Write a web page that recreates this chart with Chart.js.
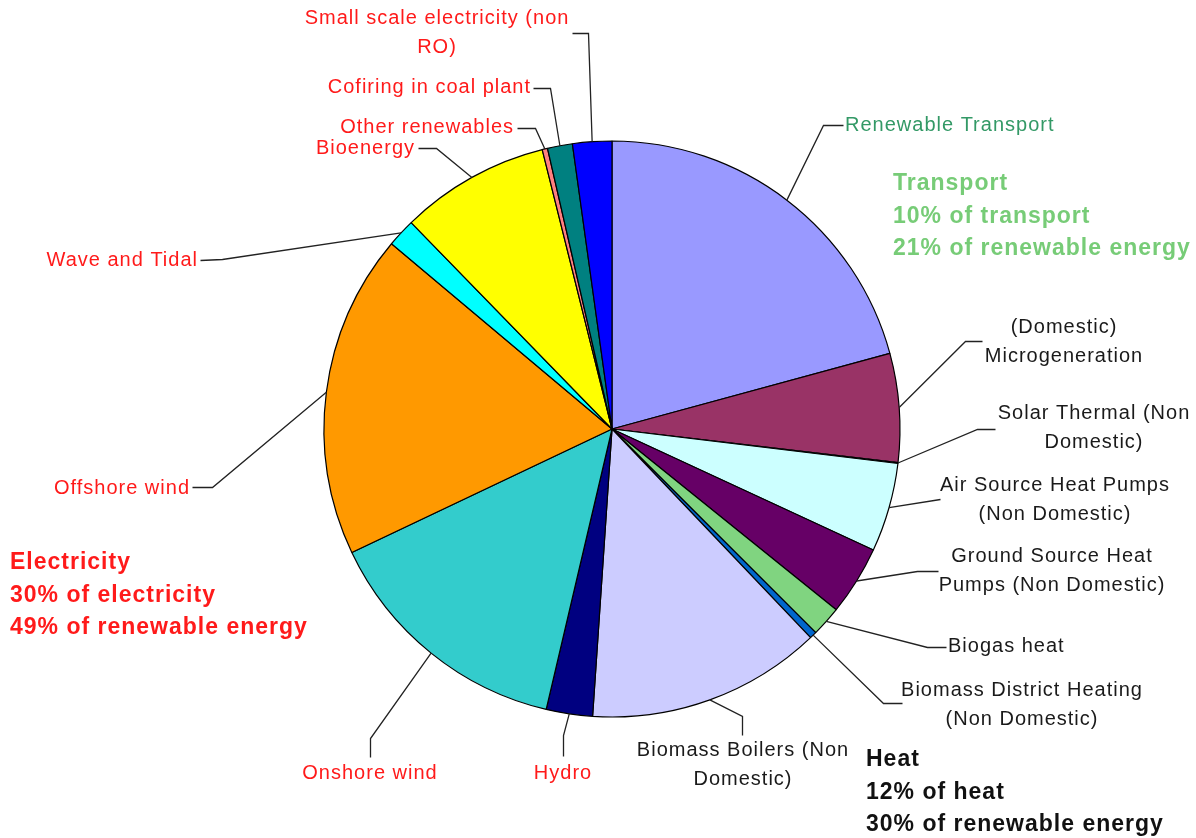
<!DOCTYPE html>
<html>
<head>
<meta charset="utf-8">
<script src="https://cdn.jsdelivr.net/npm/chart.js@4/dist/chart.umd.min.js"></script>
<style>
  html, body { margin: 0; padding: 0; background: #fff; }
  canvas { display: block; }
</style>
</head>
<body>
<canvas id="pie" width="1196" height="838"></canvas>
<script>
// slices, clockwise from 12 o'clock (share of renewable energy, %)
const categories = [
  "Renewable Transport",
  "(Domestic) Microgeneration",
  "Solar Thermal (Non Domestic)",
  "Air Source Heat Pumps (Non Domestic)",
  "Ground Source Heat Pumps (Non Domestic)",
  "Biogas heat",
  "Biomass District Heating (Non Domestic)",
  "Biomass Boilers (Non Domestic)",
  "Hydro",
  "Onshore wind",
  "Offshore wind",
  "Wave and Tidal",
  "Bioenergy",
  "Other renewables",
  "Cofiring in coal plant",
  "Small scale electricity (non RO)"
];
const values = [20.8, 6.1, 0.05, 5.0, 3.9, 1.7, 0.4, 13.2, 2.6, 14.3, 18.2, 1.6, 8.4, 0.3, 1.4, 2.2];
const sectors = ["transport", "heat", "heat", "heat", "heat", "heat", "heat", "heat",
  "elec", "elec", "elec", "elec", "elec", "elec", "elec", "elec"];

const summaryTransport = ["Transport", "10% of transport", "21% of renewable energy"];
const summaryElec = ["Electricity", "30% of electricity", "49% of renewable energy"];
const summaryHeat = ["Heat", "12% of heat", "30% of renewable energy"];

const sliceColors = ["#9999FF", "#993366", "#CCFFFF", "#CCFFFF", "#660066", "#80D480", "#0066CC",
  "#CCCCFF", "#000080", "#33CCCC", "#FF9900", "#00FFFF", "#FFFF00", "#FF8080", "#008080", "#0000FF"];
const textColors = { transport: "#339966", heat: "#1a1a1a", elec: "#FF1a1a" };

// label layout: text lines, anchor, alignment, elbow points of the leader line
const labelLayout = [
  { lines: ["Renewable Transport"], x: 845, y: 125, align: "left", elbow: [[823, 125], [843, 125]] },
  { lines: ["(Domestic)", "Microgeneration"], x: 1064, y: 327, align: "center", elbow: [[965, 341], [982, 341]] },
  { lines: ["Solar Thermal (Non", "Domestic)"], x: 1094, y: 413, align: "center", elbow: [[977, 429], [995, 429]] },
  { lines: ["Air Source Heat Pumps", "(Non Domestic)"], x: 1055, y: 485, align: "center", elbow: [[940, 499]] },
  { lines: ["Ground Source Heat", "Pumps (Non Domestic)"], x: 1052, y: 556, align: "center", elbow: [[917, 571], [938, 571]] },
  { lines: ["Biogas heat"], x: 948, y: 646, align: "left", elbow: [[927, 647], [946, 647]] },
  { lines: ["Biomass District Heating", "(Non Domestic)"], x: 1022, y: 690, align: "center", elbow: [[883, 703], [902, 703]] },
  { lines: ["Biomass Boilers (Non", "Domestic)"], x: 743, y: 750, align: "center", elbow: [[742, 716], [742, 735]] },
  { lines: ["Hydro"], x: 563, y: 773, align: "center", elbow: [[563, 735], [563, 756]] },
  { lines: ["Onshore wind"], x: 370, y: 773, align: "center", elbow: [[370, 738], [370, 757]] },
  { lines: ["Offshore wind"], x: 190, y: 488, align: "right", elbow: [[212, 487], [192, 487]] },
  { lines: ["Wave and Tidal"], x: 198, y: 260, align: "right", elbow: [[222, 259], [200, 260]] },
  { lines: ["Bioenergy"], x: 415, y: 148, align: "right", elbow: [[436, 148], [418, 148]] },
  { lines: ["Other renewables"], x: 514, y: 127, align: "right", elbow: [[535, 128], [517, 128]] },
  { lines: ["Cofiring in coal plant"], x: 531, y: 87, align: "right", elbow: [[550, 88], [533, 88]] },
  { lines: ["Small scale electricity (non", "RO)"], x: 437, y: 18, align: "center", elbow: [[588, 33], [572, 33]] }
];

const calloutPlugin = {
  id: "callouts",
  afterDatasetsDraw(chart) {
    const ctx = chart.ctx;
    const arcs = chart.getDatasetMeta(0).data;
    ctx.save();
    // leader lines from the middle of each slice's rim
    ctx.strokeStyle = "#222";
    ctx.lineWidth = 1.3;
    arcs.forEach((arc, i) => {
      const p = arc.getProps(["x", "y", "startAngle", "endAngle", "outerRadius"]);
      const mid = (p.startAngle + p.endAngle) / 2;
      const sx = p.x + Math.cos(mid) * p.outerRadius;
      const sy = p.y + Math.sin(mid) * p.outerRadius;
      ctx.beginPath();
      ctx.moveTo(sx, sy);
      labelLayout[i].elbow.forEach(pt => ctx.lineTo(pt[0] + 0.5, pt[1] + 0.5));
      ctx.stroke();
    });
    // slice labels
    ctx.font = "20px 'Liberation Sans', Arial, sans-serif";
    ctx.letterSpacing = "1px";
    ctx.textBaseline = "middle";
    labelLayout.forEach((lab, i) => {
      ctx.fillStyle = textColors[sectors[i]];
      ctx.textAlign = lab.align;
      lab.lines.forEach((line, j) => ctx.fillText(line, lab.x, lab.y + j * 29));
    });
    // sector summaries
    ctx.font = "bold 23px 'Liberation Sans', Arial, sans-serif";
    ctx.textAlign = "left";
    const block = (lines, x, y, color) => {
      ctx.fillStyle = color;
      lines.forEach((line, j) => ctx.fillText(line, x, y + j * 32.5));
    };
    block(summaryTransport, 893, 184, "#77CC77");
    block(summaryElec, 10, 563, "#FF1a1a");
    block(summaryHeat, 866, 760, "#111111");
    ctx.restore();
  }
};

new Chart(document.getElementById("pie"), {
  type: "pie",
  data: {
    labels: categories,
    datasets: [{
      data: values,
      backgroundColor: sliceColors,
      borderColor: "#000",
      borderWidth: 1.2,
      radius: 288
    }]
  },
  options: {
    responsive: false,
    animation: false,
    layout: { padding: { left: 28, right: 0, top: 20, bottom: 0 } },
    plugins: {
      legend: { display: false },
      tooltip: { enabled: false }
    }
  },
  plugins: [calloutPlugin]
});
</script>
</body>
</html>
